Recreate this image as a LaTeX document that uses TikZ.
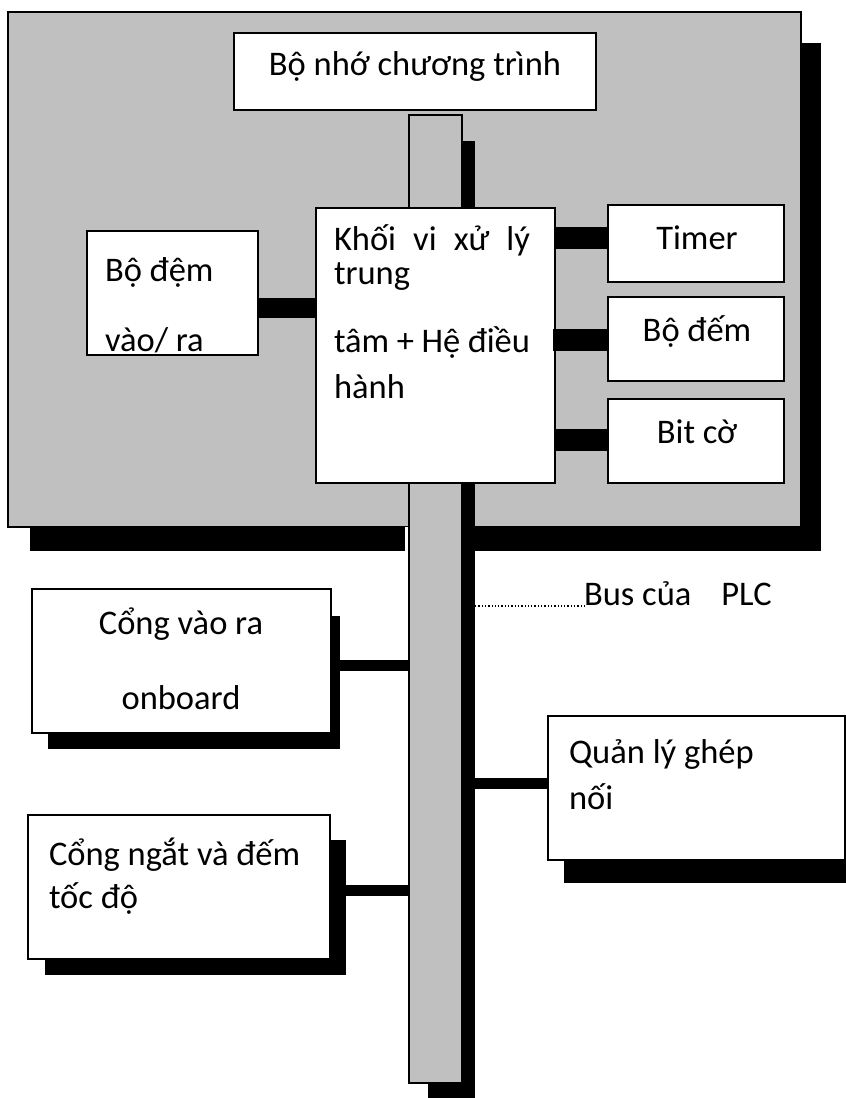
\documentclass[tikz,border=0pt]{standalone}
\usepackage{fontspec}
\setmainfont{Carlito}
\definecolor{plcgray}{HTML}{C0C0C0}
\begin{document}
\begin{tikzpicture}[x=1pt,y=-1pt,
  panel/.style={draw=black, line width=1.5pt, fill=plcgray, inner sep=0pt, outer sep=0pt},
  busbar/.style={draw=black, line width=1.5pt, fill=plcgray, inner sep=0pt, outer sep=0pt},
  box/.style={draw=black, line width=1.5pt, fill=white, inner sep=0pt, outer sep=0pt},
  txt/.style={font=\fontsize{34.5pt}{40pt}\selectfont, inner sep=0pt, outer sep=0pt},
  wideconn/.style={line width=22pt, line cap=butt},
  midconn/.style={line width=20pt, line cap=butt},
  thinconn/.style={line width=11pt, line cap=butt},
  shade/.style={fill=black}
]
\useasboundingbox (0,0) rectangle (846,1098);

% main PLC panel with its shadow
\fill[shade] (30,43) rectangle (821,551);
\node[panel, minimum width=793pt, minimum height=515pt] (plc) at (404.5,269.5) {};
\fill[white] (405,527) rectangle (409,551);

% bus with its shadow
\fill[shade] (428,141) rectangle (475,1098);
\node[busbar, minimum width=53pt, minimum height=968pt] (bus) at (435.5,599) {};

% boxes inside the panel
\node[box, minimum width=362pt, minimum height=77pt] (bonho) at (415,71.5) {};
\node[box, minimum width=239pt, minimum height=275pt] (khoi) at (435.5,345.5) {};
\node[box, minimum width=176pt, minimum height=77pt] (timer) at (696,243.5) {};
\node[box, minimum width=176pt, minimum height=84pt] (dem) at (696,339) {};
\node[box, minimum width=176pt, minimum height=84pt] (bitco) at (696,441) {};
\node[box, minimum width=171pt, minimum height=124pt] (bodem) at (172.5,293) {};

% outer boxes with shadows
\fill[shade] (48,616) rectangle (340,749);
\node[box, minimum width=299pt, minimum height=144pt] (cong1) at (181.5,661) {};
\fill[shade] (564,740) rectangle (846,883);
\node[box, minimum width=297pt, minimum height=144pt] (quanly) at (696.5,788) {};
\fill[shade] (45,840) rectangle (346,975);
\node[box, minimum width=302pt, minimum height=144pt] (cong2) at (179,887) {};

% connectors
\draw[wideconn] (khoi.east |- 0,238) -- (timer.west |- 0,238);
\draw[wideconn] ([xshift=-2pt]khoi.east |- 0,339.5) -- (dem.west |- 0,339.5);
\draw[wideconn] (khoi.east |- 0,439.5) -- (bitco.west |- 0,439.5);
\draw[midconn] (bodem.east |- 0,308) -- (khoi.west |- 0,308);
\draw[thinconn] ([xshift=9pt]cong1.east |- 0,665.5) -- (bus.west |- 0,665.5);
\draw[thinconn] ([xshift=13pt]bus.east |- 0,783.5) -- (quanly.west |- 0,783.5);
\draw[thinconn] ([xshift=16pt]cong2.east |- 0,890.5) -- (bus.west |- 0,890.5);

% texts
\node[txt, anchor=base] (tbonho) at (415,75) {Bộ nhớ chương trình};
\node[txt, anchor=base west] (tkhoi1) at (334,250) {\makebox[196pt][s]{Khối vi xử lý}};
\node[txt, anchor=base west] (tkhoi2) at (334,284) {trung};
\node[txt, anchor=base west] (tkhoi3) at (334,352) {\makebox[196pt][s]{tâm + Hệ điều}};
\node[txt, anchor=base west] (tkhoi4) at (334,398) {hành};
\node[txt, anchor=base] (ttimer) at (697,249) {Timer};
\node[txt, anchor=base] (tdem) at (697,341) {Bộ đếm};
\node[txt, anchor=base] (tbitco) at (697,443) {Bit cờ};
\node[txt, anchor=base west] (tbodem1) at (105,281) {Bộ đệm};
\node[txt, anchor=base west] (tbodem2) at (105,351) {vào/ ra};
\node[txt, anchor=base] (tcong1a) at (181,634) {Cổng vào ra};
\node[txt, anchor=base] (tcong1b) at (181,709) {onboard};
\node[txt, anchor=base west] (tql1) at (569,763) {Quản lý ghép};
\node[txt, anchor=base west] (tql2) at (569,809) {nối};
\node[txt, anchor=base west] (tcong2a) at (49,865) {Cổng ngắt và đếm};
\node[txt, anchor=base west] (tcong2b) at (49,908) {tốc độ};
\node[txt, anchor=base west] (buslbl) at (584,605) {Bus của\hspace{30pt}PLC};

% dotted leader to the bus label
\draw[dotted, line width=1.3pt, black] ([xshift=13pt]bus.east |- 0,606) -- (buslbl.base west |- 0,606);
\end{tikzpicture}
\end{document}
